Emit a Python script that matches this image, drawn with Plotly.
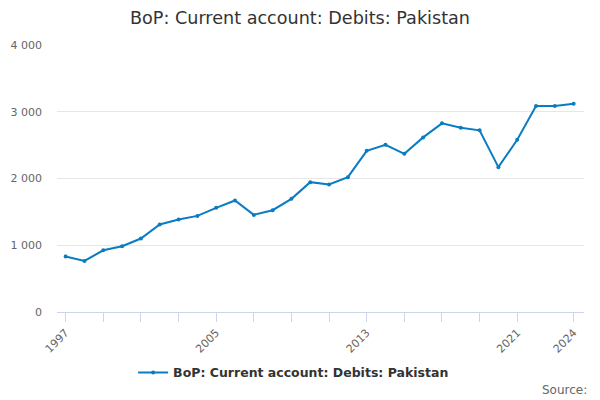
import plotly.graph_objects as go

years = list(range(1997, 2025))
values = [831, 765, 925, 985, 1101, 1311, 1386, 1440, 1560, 1671, 1455, 1525, 1695,
          1945, 1911, 2020, 2415, 2505, 2370, 2616, 2826, 2760, 2721, 2170, 2580,
          3085, 3085, 3120]
series_name = "BoP: Current account: Debits: Pakistan"
title_text = "BoP: Current account: Debits: Pakistan"
x_tick_vals = [1997, 1999, 2001, 2003, 2005, 2007, 2009, 2011, 2013, 2015, 2017, 2019, 2021, 2024]
x_label_years = [1997, 2005, 2013, 2021, 2024]
y_tick_vals = [0, 1000, 2000, 3000, 4000]
y_tick_text = ["0", "1 000", "2 000", "3 000", "4 000"]

x_tick_text = [str(v) if v in x_label_years else "" for v in x_tick_vals]

# The page body has an 8px margin, so the figure is sized and placed to compensate.
W, H = 592, 392

fig = go.Figure()
fig.add_trace(go.Scatter(
    x=years, y=values, mode="lines+markers", name=series_name,
    line=dict(color="#0a7cc1", width=2),
    marker=dict(color="#0a7cc1", size=4),
))

fig.update_layout(
    width=W, height=H,
    margin=dict(l=49, r=16, t=37, b=88, autoexpand=False),
    paper_bgcolor="white", plot_bgcolor="white",
    font=dict(family="DejaVu Sans", color="#333333"),
    title=dict(text=title_text, x=(300 - 8) / W, xanchor="center", y=1 - 10 / H, yanchor="middle",
               font=dict(size=17.6, color="#333333")),
    showlegend=True,
    legend=dict(orientation="h", x=0.449, xanchor="center", y=-0.228, yanchor="middle",
                font=dict(size=12.5, color="#333333", weight="bold")),
    xaxis=dict(
        range=[1996.54, 2024.55], tickmode="array", tickvals=x_tick_vals, ticktext=x_tick_text,
        tickangle=-45, ticks="outside", ticklen=9, tickcolor="#ccd6eb", tickwidth=1,
        showline=True, linecolor="#ccd6eb", linewidth=1, showgrid=False, zeroline=False,
        tickfont=dict(size=11, color="#666666"), automargin=False,
    ),
    yaxis=dict(
        range=[0, 4000], tickmode="array", tickvals=y_tick_vals, ticktext=y_tick_text,
        showgrid=True, gridcolor="#e6e6e6", gridwidth=1, zeroline=False, showline=False,
        tickfont=dict(size=11, color="#666666"), ticks="", ticklabelstandoff=14,
        automargin=False,
    ),
    annotations=[dict(text="Source:", xref="paper", yref="paper", x=1.0095, y=-0.292,
                      xanchor="right", yanchor="middle", showarrow=False,
                      font=dict(size=12, color="#666666"))],
)

fig.write_html("out.html")
